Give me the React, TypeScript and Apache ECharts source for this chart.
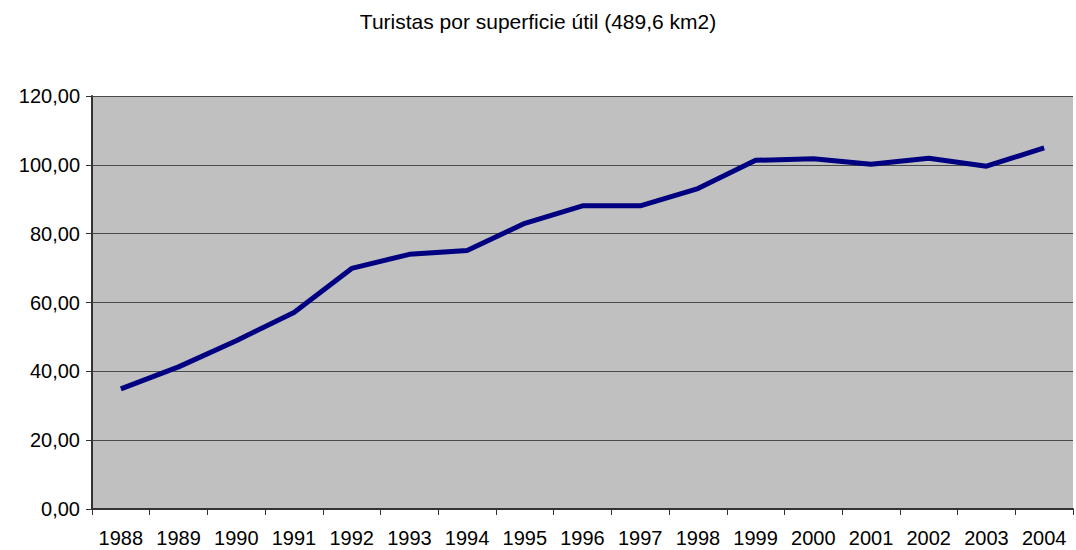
import React, { useEffect, useRef } from "react";
import * as echarts from "echarts";

const years = ["1988","1989","1990","1991","1992","1993","1994","1995","1996","1997","1998","1999","2000","2001","2002","2003","2004"];
const turistas = [34.9, 41.3, 48.9, 57.1, 69.9, 74.0, 75.1, 83.0, 88.1, 88.1, 93.1, 101.3, 101.8, 100.2, 101.9, 99.6, 104.9];
const titleText = "Turistas por superficie útil (489,6 km2)";

export default function App() {
  const ref = useRef<HTMLDivElement>(null);
  useEffect(() => {
    const chart = echarts.init(ref.current!, null, { renderer: "svg" });
    chart.setOption({
      animation: false,
      backgroundColor: "#ffffff",
      textStyle: { fontFamily: "Liberation Sans, Arial, sans-serif" },
      title: {
        text: titleText,
        left: "center",
        top: 6,
        textStyle: { fontSize: 21, fontWeight: "normal", color: "#000", fontFamily: "Liberation Sans, Arial, sans-serif" },
      },
      grid: { left: 92, right: 3, top: 96, bottom: 41, show: true, backgroundColor: "#c0c0c0", borderWidth: 0 },
      xAxis: {
        type: "category",
        data: years,
        boundaryGap: true,
        axisLine: { show: true, lineStyle: { color: "#333", width: 2 } },
        axisTick: { show: true, length: 6, lineStyle: { color: "#333" }, alignWithLabel: false },
        axisLabel: { color: "#000", fontSize: 20, margin: 19, interval: 0 },
        splitLine: { show: false },
      },
      yAxis: {
        type: "value",
        min: 0,
        max: 120,
        interval: 20,
        axisLine: { show: true, lineStyle: { color: "#333", width: 2 } },
        axisTick: { show: true, length: 6, lineStyle: { color: "#333" } },
        axisLabel: { color: "#000", fontSize: 20, margin: 12, formatter: (v: number) => v.toFixed(2).replace(".", ",") },
        splitLine: { show: true, lineStyle: { color: "#4a4a4a", width: 1 } },
      },
      series: [
        {
          type: "line",
          data: turistas,
          showSymbol: false,
          symbol: "none",
          lineStyle: { color: "#000080", width: 5 },
          itemStyle: { color: "#000080" },
        },
      ],
    });
    return () => chart.dispose();
  }, []);
  return <div ref={ref} style={{ position: "fixed", left: 0, top: 0, width: 1076, height: 550 }} />;
}
